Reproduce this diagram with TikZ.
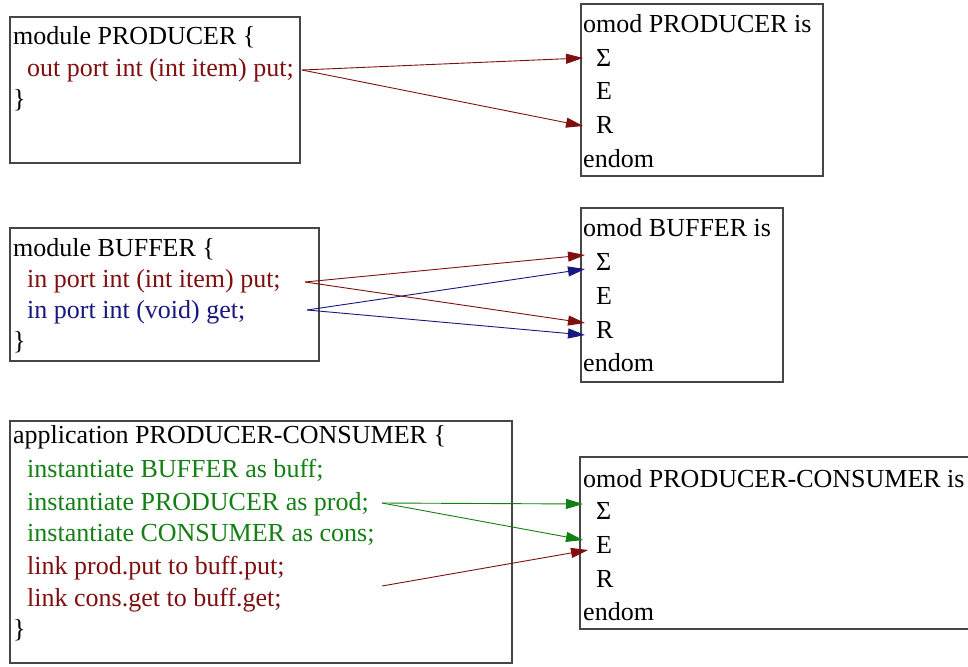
\documentclass[tikz,border=0pt]{standalone}
\usepackage{fontspec}
\setmainfont{Liberation Serif}
\usetikzlibrary{arrows.meta,calc}

\definecolor{codered}{RGB}{128,16,16}
\definecolor{codeblue}{RGB}{24,24,128}
\definecolor{codegreen}{RGB}{20,128,20}
\definecolor{framegray}{RGB}{70,70,70}

\tikzset{
  frame/.style={draw=framegray, line width=1.2pt},
  txt/.style={anchor=base west, inner sep=0pt, font=\fontsize{26}{31}\selectfont},
  link/.style={line width=0.9pt, -{Triangle[length=17pt,width=10pt]}},
}

\begin{document}
\begin{tikzpicture}[x=1pt,y=-1pt]
\useasboundingbox[fill=white] (0,0) rectangle (968,666);

% ---------- module PRODUCER ----------
\draw[frame] (10,17) rectangle (300,163);
\node[txt] (pmod) at (13,45) {module PRODUCER \{};
\node[txt, text=codered] (pout) at (27,77) {out port int (int item) put;};
\node[txt] (pend) at (13,108) {\}};

\draw[frame] (581,4) rectangle (823,176);
\node[txt] (pomod) at (583,33) {omod PRODUCER is};
\node[txt] (psig) at (596,67) {Σ};
\node[txt] (pE) at (596,100) {E};
\node[txt] (pR) at (596,133) {R};
\node[txt] (pendom) at (583,167) {endom};

\coordinate (ptail) at (302,70);
\draw[link, codered] (ptail) -- ($(psig.base west)+(-13,-9)$);
\draw[link, codered] (ptail) -- ($(pR.base west)+(-13,-7)$);

% ---------- module BUFFER ----------
\draw[frame] (10,228) rectangle (319,361);
\node[txt] (bmod) at (13,256) {module BUFFER \{};
\node[txt, text=codered] (bput) at (27,287) {in port int (int item) put;};
\node[txt, text=codeblue] (bget) at (27,318) {in port int (void) get;};
\node[txt] (bend) at (13,349) {\}};

\draw[frame] (581,208) rectangle (783,382);
\node[txt] (bomod) at (583,236) {omod BUFFER is};
\node[txt] (bsig) at (596,270) {Σ};
\node[txt] (bE) at (596,304) {E};
\node[txt] (bR) at (596,338) {R};
\node[txt] (bendom) at (583,371) {endom};

\coordinate (bputtail) at (305,282);
\coordinate (bgettail) at (307,310);
\draw[link, codered] (bputtail) -- ($(bsig.base west)+(-11,-15)$);
\draw[link, codered] (bputtail) -- ($(bR.base west)+(-11,-15)$);
\draw[link, codeblue] (bgettail) -- ($(bsig.base west)+(-11,-1)$);
\draw[link, codeblue] (bgettail) -- ($(bR.base west)+(-11,-3)$);

% ---------- application PRODUCER-CONSUMER ----------
\draw[frame] (10,421) rectangle (512,663);
\node[txt] (capp) at (13,443) {application PRODUCER-CONSUMER \{};
\node[txt, text=codegreen] (cbuff) at (27,477) {instantiate BUFFER as buff;};
\node[txt, text=codegreen] (cprod) at (27,510) {instantiate PRODUCER as prod;};
\node[txt, text=codegreen] (ccons) at (27,541) {instantiate CONSUMER as cons;};
\node[txt, text=codered] (clput) at (27,574) {link prod.put to buff.put;};
\node[txt, text=codered] (clget) at (27,606) {link cons.get to buff.get;};
\node[txt] (cend) at (13,637) {\}};

% right side of this frame runs past the page edge
\draw[frame] (975,457) -- (580,457) -- (580,629) -- (975,629);
\node[txt] (comod) at (583,487) {omod PRODUCER-CONSUMER is};
\node[txt] (csig) at (596,519) {Σ};
\node[txt] (cE) at (596,553) {E};
\node[txt] (cR) at (596,587) {R};
\node[txt] (cendom) at (583,620) {endom};

\coordinate (cprodtail) at (382,503);
\coordinate (clinktail) at (382,586);
\draw[link, codegreen] (cprodtail) -- ($(csig.base west)+(-13,-15)$);
\draw[link, codegreen] (cprodtail) -- ($(cE.base west)+(-13,-13)$);
\draw[link, codered] (clinktail) -- ($(cE.base west)+(-8,-3)$);
\end{tikzpicture}
\end{document}
